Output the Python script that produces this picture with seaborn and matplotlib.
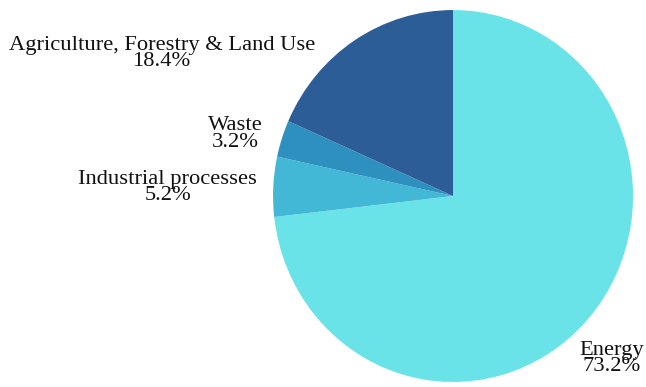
import seaborn as sns
import matplotlib.pyplot as plt

# data
sectors = ["Energy", "Industrial processes", "Waste", "Agriculture, Forestry & Land Use"]
shares = [73.2, 5.2, 3.2, 18.4]
colors = ["#69e3e8", "#43b7d6", "#2e90bf", "#2d5d96"]

sns.set_theme(style="white")
plt.rcParams['font.family'] = ['Liberation Serif', 'DejaVu Serif']

fig = plt.figure(figsize=(6.46, 3.87), dpi=100)
ax = fig.add_axes([0, 0, 1, 1])

ax.pie(shares, colors=sns.color_palette(colors), startangle=90, counterclock=False,
       wedgeprops={"linewidth": 0})

# label spots (x, y) in pie units, radius = 1
label_pos = {
    "Energy": (0.883, -0.874),
    "Industrial processes": (-1.586, 0.046),
    "Waste": (-1.211, 0.333),
    "Agriculture, Forestry & Land Use": (-1.619, 0.766),
}
for name, val in zip(sectors, shares):
    x, y = label_pos[name]
    ax.text(x, y, f"{name}\n{val}%", ha="center", va="center", fontsize=16.2,
            linespacing=0.84, color="#111111")

# pie in the original is a touch taller than wide
ax.set_xlim(-2.517, 1.072)
ax.set_ylim(-1.027, 1.054)
ax.set_aspect("auto")
ax.axis("off")

fig.savefig("out.png", dpi=100)
